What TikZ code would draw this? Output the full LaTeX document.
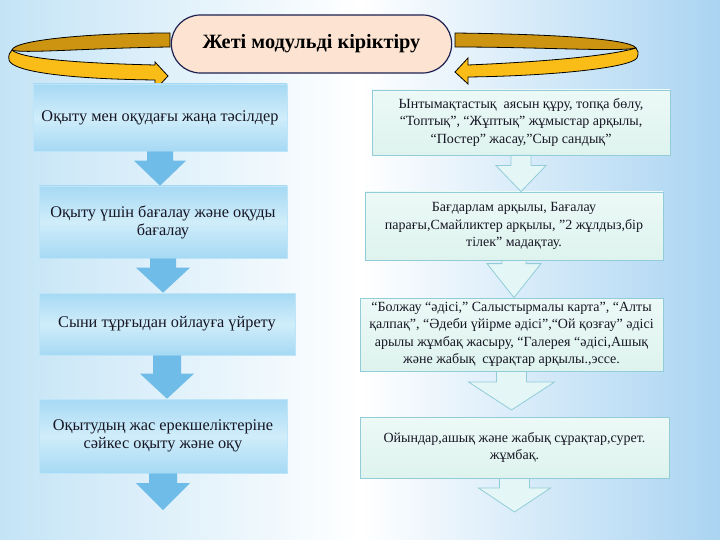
\documentclass[tikz,border=0pt]{standalone}
\usepackage{fontspec}
\setmainfont{Liberation Serif}
\usetikzlibrary{calc,shapes.misc}

\definecolor{bgside}{RGB}{196,228,246}
\definecolor{bgright}{RGB}{170,212,242}
\definecolor{lboxtop}{RGB}{166,217,244}
\definecolor{lboxmid}{RGB}{208,237,250}
\definecolor{lboxline}{RGB}{190,228,248}
\definecolor{larrow}{RGB}{112,188,232}
\definecolor{rboxfill}{RGB}{236,249,247}
\definecolor{rboxbot}{RGB}{222,243,238}
\definecolor{rboxline}{RGB}{146,204,216}
\definecolor{rarrow}{RGB}{228,246,246}
\definecolor{ringdark}{RGB}{204,148,16}
\definecolor{ringlight}{RGB}{250,188,22}
\definecolor{pillfill}{RGB}{253,228,210}
\definecolor{pillline}{RGB}{30,32,80}
\definecolor{txt}{RGB}{22,22,36}

\begin{document}
\begin{tikzpicture}[x=1pt,y=-1pt,
  lbox/.style={draw=lboxline, line width=0.6pt, top color=lboxtop, bottom color=lboxtop, middle color=lboxmid,
    align=center, text=txt, inner sep=2pt, font=\fontsize{16.3}{18}\selectfont},
  rbox/.style={draw=rboxline, line width=0.8pt, top color=rboxfill, bottom color=rboxbot,
    align=center, text=txt, inner sep=2pt, font=\fontsize{14}{17.5}\selectfont},
  blockdown/.style args={#1/#2/#3}{to path={let \p1=(\tikztostart), \p2=(\tikztotarget) in
    (\x1-#1,\y1) -- (\x1-#1,\y2+#3) -- (\x1-#2,\y2+#3) -- (\x1,\y2) -- (\x1+#2,\y2+#3) -- (\x1+#1,\y2+#3) -- (\x1+#1,\y1) -- cycle}},
  lblock/.style={fill=larrow, blockdown=#1},
  rblock/.style={fill=rarrow, draw=rboxline, line width=0.8pt, blockdown=#1},
  ringback/.style={fill=ringdark, draw=black, line width=0.8pt},
  ringfront/.style={fill=ringlight, draw=black, line width=0.8pt},
  pill/.style={rounded rectangle, draw=pillline, line width=1.2pt, fill=pillfill, text=black,
    minimum width=287pt, minimum height=58pt, font=\fontsize{20.3}{24}\selectfont\bfseries}]

\fill[left color=bgside, right color=bgright, middle color=white] (0,0) rectangle (720,540);

\draw[ringback] (170,33) .. controls (90,33) and (14,40) .. (12,50) .. controls (20,54) and (90,48) .. (170,47) -- cycle;
\draw[ringfront] (12,50) .. controls (20,58) and (70,63) .. (155,65) -- (155,62) -- (168,76) -- (155,90) -- (155,80)
  .. controls (70,79) and (12,72) .. (9,60) .. controls (8,55) and (10,52) .. (12,50) -- cycle;
\draw[ringback] (455,33) .. controls (540,34) and (630,38) .. (636,48) .. controls (620,52) and (540,47) .. (455,47) -- cycle;
\draw[ringfront] (636,48) .. controls (610,56) and (540,62) .. (468,65) -- (468,58) -- (455,72) -- (468,84) -- (468,77)
  .. controls (550,76) and (630,68) .. (637,58) .. controls (639,53) and (638,50) .. (636,48) -- cycle;

\node[pill] (title) at (311.5,44) {Жеті модульді кіріктіру};

\node[lbox, minimum width=254pt, minimum height=67pt] (L1) at (160,117.5) {Оқыту мен оқудағы жаңа тәсілдер};
\node[lbox, minimum width=248pt, minimum height=72pt] (L2) at (163,222) {Оқыту үшін бағалау және оқуды\\бағалау};
\node[lbox, minimum width=256pt, minimum height=62pt] (L3) at (167,324) {Сыни тұрғыдан ойлауға үйрету};
\node[lbox, minimum width=248pt, minimum height=74pt] (L4) at (163,436) {Оқытудың жас ерекшеліктеріне\\сәйкес оқыту және оқу};

\node[rbox, minimum width=298pt, minimum height=65pt] (R1) at (521,122.5)
  {Ынтымақтастық\ \ аясын құру, топқа бөлу,\\“Топтық”, “Жұптық” жұмыстар арқылы,\\“Постер” жасау,”Сыр сандық”};
\node[rbox, minimum width=298pt, minimum height=68pt] (R2) at (514,226)
  {Бағдарлам арқылы, Бағалау\\парағы,Смайликтер арқылы, ”2 жұлдыз,бір\\тілек” мадақтау.};
\node[rbox, minimum width=303pt, minimum height=73pt] (R3) at (511.5,334.5)
  {“Болжау “әдісі,” Салыстырмалы карта”, “Алты\\қалпақ”, “Әдеби үйірме әдісі”,“Ой қозғау” әдісі\\арылы жұмбақ жасыру, “Галерея “әдісі,Ашық\\және жабық\ \ сұрақтар арқылы.,эссе.};
\node[rbox, minimum width=309pt, minimum height=61pt] (R4) at (514.5,447.5)
  {Ойындар,ашық және жабық сұрақтар,сурет.\\жұмбақ.};

\coordinate (Lend) at (163,510);
\coordinate (R3tip) at (512,410);
\coordinate (Rend) at (512,512);

\path[lblock=13pt/26pt/25pt] (L1.south) to (L1.south |- L2.north);
\path[lblock=13pt/27pt/25pt] (L2.south) to (L2.south |- L3.north);
\path[lblock=14pt/27pt/25pt] (L3.south) to (L3.south |- L4.north);
\path[lblock=14pt/27pt/27pt] (L4.south) to (Lend);

\draw[rblock=10pt/25pt/26pt] (R1.south) to (R1.south |- R2.north);
\draw[rblock=12pt/27pt/34pt] (R2.south) to (R2.south |- R3.north);
\draw[rblock=15pt/43pt/28pt] (R3.south) to (R3tip);
\draw[rblock=15pt/36pt/24pt] (R4.south) to (Rend);
\end{tikzpicture}
\end{document}
